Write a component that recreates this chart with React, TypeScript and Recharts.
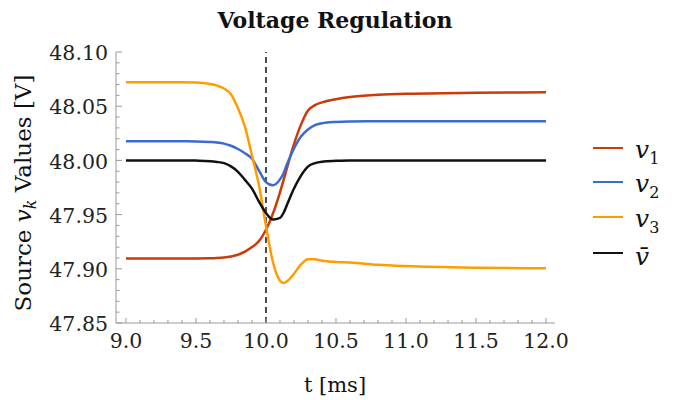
import { LineChart, Line, XAxis, YAxis, ReferenceLine } from 'recharts';

// time axis (ms) and source voltages (V)
const time = [
  9.0, 9.2, 9.4, 9.5, 9.6, 9.65, 9.7, 9.75, 9.8, 9.85, 9.9, 9.95, 10.0, 10.05,
  10.1, 10.125, 10.15, 10.2, 10.25, 10.3, 10.35, 10.4, 10.5, 10.6, 10.8, 11.0, 11.5, 12.0,
];
const v1 = [
  47.9096, 47.9096, 47.9096, 47.9096, 47.9097, 47.9099, 47.9104, 47.9114, 47.913, 47.9158,
  47.92, 47.9255, 47.936, 47.951, 47.9705, 47.9815, 47.993, 48.015, 48.033, 48.046,
  48.051, 48.0535, 48.0565, 48.0585, 48.0605, 48.0615, 48.0624, 48.0628,
];
const v2 = [
  48.0176, 48.0176, 48.0176, 48.0175, 48.017, 48.0165, 48.0155, 48.0135, 48.0105, 48.0066,
  48.0015, 47.9905, 47.98, 47.977, 47.9825, 47.988, 47.9965, 48.011, 48.022, 48.0285,
  48.0325, 48.0342, 48.0355, 48.036, 48.0362, 48.0362, 48.0362, 48.0362,
];
const v3 = [
  48.072, 48.072, 48.072, 48.0718, 48.0705, 48.069, 48.0663, 48.061, 48.048, 48.031,
  48.0045, 47.977, 47.9395, 47.906, 47.889, 47.887, 47.8885, 47.8955, 47.904, 47.9088,
  47.9087, 47.9075, 47.9063, 47.9057, 47.9037, 47.9025, 47.901, 47.9005,
];
const vMean = [
  48.0, 48.0, 48.0, 47.9998, 47.9993, 47.9986, 47.9975, 47.9945, 47.9895, 47.982,
  47.974, 47.962, 47.9515, 47.9455, 47.947, 47.9515, 47.959, 47.974, 47.986, 47.9943,
  47.9975, 47.9988, 47.9996, 48.0, 48.0, 48.0, 48.0, 48.0,
];

const stepTime = 10.0;
const xMajor = [9.0, 9.5, 10.0, 10.5, 11.0, 11.5, 12.0];
const yMajor = [47.85, 47.9, 47.95, 48.0, 48.05, 48.1];
const xTicks = Array.from({ length: 31 }, (_, i) => +(9 + i * 0.1).toFixed(1));
const yTicks = Array.from({ length: 26 }, (_, i) => +(47.85 + i * 0.01).toFixed(2));

const data = time.map((t, i) => ({ t, v1: v1[i], v2: v2[i], v3: v3[i], vMean: vMean[i] }));

const series = [
  { key: 'v1', color: '#CC3A0A', sub: '1' },
  { key: 'v2', color: '#3A6AD4', sub: '2' },
  { key: 'v3', color: '#FF9D00', sub: '3' },
  { key: 'vMean', color: '#111111', sub: '' },
];

const FONT = 'DejaVu Serif';
const AXIS = '#999999';

const isMajor = (v: number, list: number[]) => list.some((m) => Math.abs(m - v) < 1e-6);

function XTick({ x, y, payload }: any) {
  const major = isMajor(payload.value, xMajor);
  return (
    <g>
      <line x1={x} x2={x} y1={y} y2={y - (major ? 5 : 3)} stroke={AXIS} />
      {major && (
        <text x={x} y={y + 10} dy="0.71em" textAnchor="middle" fill="#222" fontSize={20.5} fontFamily={FONT}>
          {payload.value.toFixed(1)}
        </text>
      )}
    </g>
  );
}

function YTick({ x, y, payload }: any) {
  const major = isMajor(payload.value, yMajor);
  return (
    <g>
      <line x1={x} x2={x + (major ? 6 : 3.5)} y1={y} y2={y} stroke={AXIS} />
      {major && (
        <text x={x - 8} y={y} dy="0.4em" textAnchor="end" fill="#222" fontSize={20.5} fontFamily={FONT}>
          {payload.value.toFixed(2)}
        </text>
      )}
    </g>
  );
}

export default function App() {
  return (
    <div style={{ position: 'relative', width: 661, height: 392, fontFamily: FONT, color: '#111' }}>
      <div style={{ position: 'absolute', left: 0, top: -1, width: 654, textAlign: 'center', fontWeight: 'bold', fontSize: 22 }}>
        Voltage Regulation
      </div>

      <LineChart width={661} height={384} data={data} margin={{ top: 44, right: 114, bottom: 39, left: 8 }}>
        <XAxis
          dataKey="t"
          type="number"
          domain={[8.929, 12.064]}
          allowDataOverflow
          ticks={xTicks}
          interval={0}
          tick={<XTick />}
          tickLine={false}
          tickSize={0}
          tickMargin={0}
          height={30}
          stroke={AXIS}
        />
        <YAxis
          type="number"
          domain={[47.85, 48.1]}
          allowDataOverflow
          ticks={yTicks}
          interval={0}
          tick={<YTick />}
          tickLine={false}
          tickSize={0}
          tickMargin={0}
          width={100}
          stroke={AXIS}
        />
        <ReferenceLine x={stepTime} stroke="#111" strokeWidth={1.5} strokeDasharray="6 4" />
        {series.map((s) => (
          <Line
            key={s.key}
            dataKey={s.key}
            type="monotone"
            stroke={s.color}
            strokeWidth={2.5}
            dot={false}
            isAnimationActive={false}
          />
        ))}
      </LineChart>

      {/* axis titles */}
      <div
        style={{
          position: 'absolute',
          left: 16.5,
          top: 185,
          transform: 'translate(-50%, -50%) rotate(-90deg)',
          whiteSpace: 'nowrap',
          fontSize: 23,
        }}
      >
        Source <i>v</i>
        <sub style={{ fontStyle: 'italic', fontSize: 16 }}>k</sub> Values [V]
      </div>
      <div style={{ position: 'absolute', left: 0, top: 365, width: 654, textAlign: 'center', fontSize: 21 }}>
        t [ms]
      </div>

      {/* legend */}
      {series.map((s, i) => (
        <div
          key={s.key}
          style={{
            position: 'absolute',
            left: 585,
            top: [140, 174, 209, 245][i] - 15,
            height: 30,
            display: 'flex',
            alignItems: 'center',
            whiteSpace: 'nowrap',
          }}
        >
          <span style={{ display: 'inline-block', width: 30, height: 2.5, background: s.color, marginRight: 12 }} />
          <span style={{ position: 'relative', top: 3, fontSize: 25 }}>
            <i>{s.sub ? 'v' : 'v\u0304'}</i>
            {s.sub && <sub style={{ fontSize: 16 }}>{s.sub}</sub>}
          </span>
        </div>
      ))}
    </div>
  );
}
